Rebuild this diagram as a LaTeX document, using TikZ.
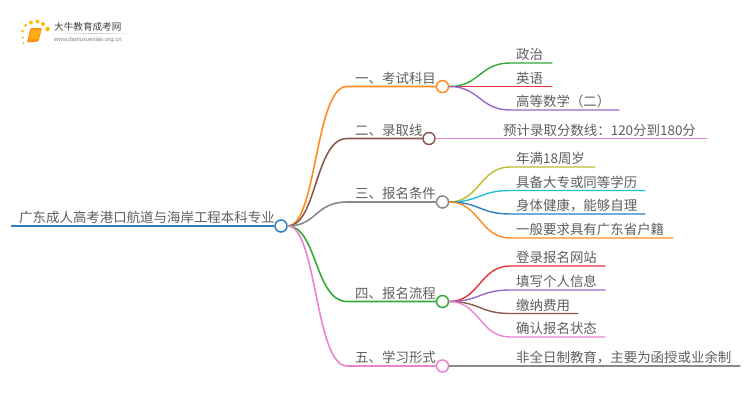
\documentclass[tikz,border=0pt]{standalone}
\usepackage{fontspec}
\setmainfont{Noto Sans CJK SC}
\newfontfamily\latinf{Liberation Sans}
\definecolor{cblue}{HTML}{2B7FC1}
\definecolor{corange}{HTML}{FF8C1E}
\definecolor{cbrown}{HTML}{8C5A50}
\definecolor{cgray}{HTML}{8A8A8A}
\definecolor{cgreen}{HTML}{35A83A}
\definecolor{cpink}{HTML}{EC82D2}
\definecolor{cred}{HTML}{E5323C}
\definecolor{cpurple}{HTML}{9A68C8}
\definecolor{colive}{HTML}{BDBD2E}
\definecolor{ccyan}{HTML}{20BFD2}
\definecolor{ctext}{HTML}{5F5F5F}
\tikzset{
  txt/.style={anchor=base west,inner sep=0pt,text=ctext,font=\fontsize{13.45pt}{14pt}\selectfont},
  hub/.style={circle,draw=#1,fill=white,line width=1.5pt,minimum size=12pt,inner sep=0pt},
  conn/.style={draw=#1,line width=1.6pt,line cap=round},
  leafc/.style={draw=#1,line width=1.4pt,line cap=round},
  sun/.style={circle,fill=#1,inner sep=0pt,draw=none},
}
\newcommand{\branch}[4]{% colour, from, knee, end
  \path[conn=#1] (#2.east) .. controls +(29,0) and +(-32,0) .. (#3) -- (#4.west);}
\newcommand{\leaf}[4]{%
  \path[leafc=#1] (#2.east) .. controls +(30,0) and +(-30,0) .. (#3) -- (#4);}
\begin{document}
\begin{tikzpicture}[x=1pt,y=-1pt]
\useasboundingbox (0,0) rectangle (750,410);
\fill[white] (0,0) rectangle (750,410);
% logo
\shade[top color=white,bottom color=white,middle color=black!22,shading angle=90] (54,33) rectangle (135,33.6);
\node[sun=corange!60!yellow,minimum size=2pt] (d1) at (23.5,43) {};
\node[sun=corange!60!yellow,minimum size=2.4pt] (d2) at (23,37.5) {};
\node[sun=corange!60!yellow,minimum size=3pt] (d3) at (22.5,31) {};
\node[sun=corange!60!yellow,minimum size=3.4pt] (d4) at (25.5,25.5) {};
\node[sun=corange!60!yellow,minimum size=4pt] (d5) at (31,22.5) {};
\node[sun=corange!60!yellow,minimum size=4pt] (d6) at (37.5,21.5) {};
\node[sun=corange!60!yellow,minimum size=4pt] (d7) at (43,24) {};
\node[sun=corange!60!yellow,minimum size=4.6pt] (d8) at (47.5,29) {};
\fill[corange,rounded corners=1pt] (30.5,28) -- (42,28) -- (38.5,41.5) -- (27,42.5) -- cycle;
\fill[corange!70!yellow,rounded corners=.6pt] (31.5,29.5) -- (40.5,29.5) -- (38.2,39) -- (29.2,39.5) -- cycle;
\node[anchor=base west,inner sep=0pt,text=black!75,font=\fontsize{9.6pt}{10pt}\selectfont] (logot) at (54,30.5) {大牛教育成考网};
\node[anchor=base west,inner sep=0pt,text=black!50,font=\latinf\fontsize{5.95pt}{6pt}\selectfont] (logou) at (54,41) {www.daniuxuexiao.org.cn};

% hubs
\node[hub=cblue] (root) at (281,226) {};
\node[hub=corange] (h1) at (442.5,86.5) {};
\node[hub=cbrown] (h2) at (429,138.5) {};
\node[hub=cgray] (h3) at (442.5,202) {};
\node[hub=cgreen] (h4) at (442.5,301.5) {};
\node[hub=cpink] (h5) at (442.5,366) {};
% root line
\coordinate (rs) at (11,226);
\path[draw=cblue,line width=2pt] (rs) -- (root.west);
\node[txt] (rt) at (19,222.6) {广东成人高考港口航道与海岸工程本科专业};
% knees
\coordinate (k1) at (347,86.5);
\coordinate (k2) at (347,138.5);
\coordinate (k3) at (347,202);
\coordinate (k4) at (347,301.5);
\coordinate (k5) at (347,366);
\branch{corange}{root}{k1}{h1}
\branch{cbrown}{root}{k2}{h2}
\branch{cgray}{root}{k3}{h3}
\branch{cgreen}{root}{k4}{h4}
\branch{cpink}{root}{k5}{h5}
\node[txt] (t1) at (355,83) {一、考试科目};
\node[txt] (t2) at (355,135) {二、录取线};
\node[txt] (t3) at (355,198.5) {三、报名条件};
\node[txt] (t4) at (355,298) {四、报名流程};
\node[txt] (t5) at (355,362.5) {五、学习形式};
% leaves of 1
\coordinate (a1) at (510,63);\coordinate (a1e) at (552,63);
\coordinate (a2) at (510,86.5);\coordinate (a2e) at (552,86.5);
\coordinate (a3) at (510,110);\coordinate (a3e) at (619,110);
\leaf{cgreen}{h1}{a1}{a1e}
\leaf{cred}{h1}{a2}{a2e}
\leaf{cpurple}{h1}{a3}{a3e}
\node[txt] (l1) at (516,59.7) {政治};
\node[txt] (l2) at (516,83.2) {英语};
\node[txt] (l3) at (516,106.7) {高等数学（二）};
% leaf of 2
\coordinate (b1e) at (707,138.5);
\path[leafc=cpink] (h2.east) -- (b1e);
\node[txt] (l4) at (503,135.2) {预计录取分数线：120分到180分};
% leaves of 3
\coordinate (c1) at (510,167);\coordinate (c1e) at (595,167);
\coordinate (c2) at (510,190.5);\coordinate (c2e) at (645,190.5);
\coordinate (c3) at (510,214);\coordinate (c3e) at (645,214);
\coordinate (c4) at (510,238);\coordinate (c4e) at (673,238);
\leaf{colive}{h3}{c1}{c1e}
\leaf{ccyan}{h3}{c2}{c2e}
\leaf{cblue}{h3}{c3}{c3e}
\leaf{corange}{h3}{c4}{c4e}
\node[txt] (l5) at (516,163.7) {年满18周岁};
\node[txt] (l6) at (516,187.2) {具备大专或同等学历};
\node[txt] (l7) at (516,210.7) {身体健康，能够自理};
\node[txt] (l8) at (516,234.7) {一般要求具有广东省户籍};
% leaves of 4
\coordinate (e1) at (510,266);\coordinate (e1e) at (605,266);
\coordinate (e2) at (510,290);\coordinate (e2e) at (605,290);
\coordinate (e3) at (510,313.5);\coordinate (e3e) at (578,313.5);
\coordinate (e4) at (510,337);\coordinate (e4e) at (605,337);
\leaf{cred}{h4}{e1}{e1e}
\leaf{cpurple}{h4}{e2}{e2e}
\leaf{cbrown}{h4}{e3}{e3e}
\leaf{cpink}{h4}{e4}{e4e}
\node[txt] (l9) at (516,262.7) {登录报名网站};
\node[txt] (l10) at (516,286.7) {填写个人信息};
\node[txt] (l11) at (516,310.2) {缴纳费用};
\node[txt] (l12) at (516,333.7) {确认报名状态};
% leaf of 5
\coordinate (f1e) at (740,366);
\path[leafc=cgray] (h5.east) -- (f1e);
\node[txt] (l13) at (516,362.7) {非全日制教育，主要为函授或业余制};
\end{tikzpicture}
\end{document}
